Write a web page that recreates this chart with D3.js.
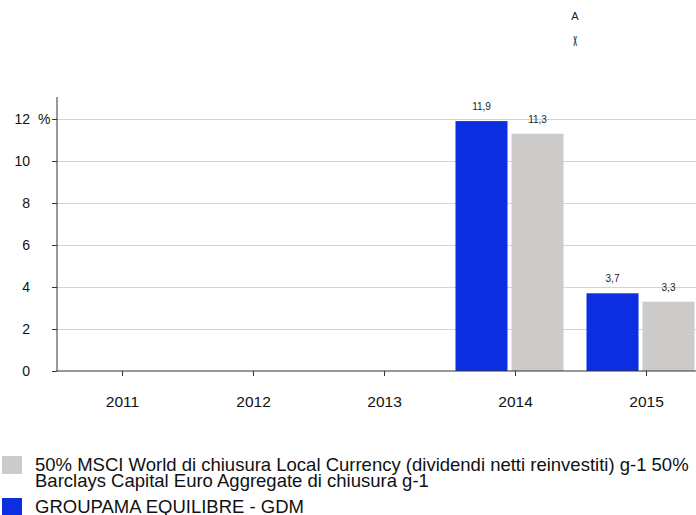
<!DOCTYPE html>
<html><head><meta charset="utf-8">
<script src="https://cdn.jsdelivr.net/npm/d3@7"></script>
<style>
html,body{margin:0;padding:0;background:#fff;}
svg{display:block;font-family:"Liberation Sans",Arial,sans-serif;}
svg text{font-family:"Liberation Sans",Arial,sans-serif;}
</style></head>
<body>
<svg id="chart" width="696" height="515"></svg>
<script>
const years = ["2011","2012","2013","2014","2015"];
const seriesNames = ["GROUPAMA EQUILIBRE - GDM","50% MSCI World di chiusura Local Currency (dividendi netti reinvestiti) g-1  50% Barclays Capital Euro Aggregate di chiusura g-1"];
const fundValues = [null, null, null, 11.9, 3.7];
const benchValues = [null, null, null, 11.3, 3.3];
const yTicks = [0, 2, 4, 6, 8, 10, 12];
const seriesColors = ["#0b2ee0", "#cdcaca"];
const legendLines = [
  ["50% MSCI World di chiusura Local Currency (dividendi netti reinvestiti) g-1  50%", "Barclays Capital Euro Aggregate di chiusura g-1"],
  ["GROUPAMA EQUILIBRE - GDM"]
];

const svg = d3.select("#chart");
const x0 = d3.scaleBand().domain(years).range([57, 712]).paddingInner(0).paddingOuter(0);
const x1 = d3.scaleBand().domain([0,1]).range([5.5, 113.5]).paddingInner(4/56);
const y = d3.scaleLinear().domain([0, 12]).range([371, 119]);

// gridlines
svg.append("g").selectAll("line").data(yTicks.filter(d=>d>0)).join("line")
  .attr("x1", 57).attr("x2", 696).attr("y1", d=>y(d)).attr("y2", d=>y(d))
  .attr("stroke", "#d4d4d4").attr("stroke-width", 1).attr("shape-rendering","crispEdges");

// bars
const data = years.map((yr,i)=>({yr, vals:[fundValues[i], benchValues[i]]}));
const g = svg.append("g");
data.forEach(d=>{
  d.vals.forEach((v,s)=>{
    if (v == null) return;
    const bx = x0(d.yr) + x1(s);
    g.append("rect").attr("x", bx).attr("y", y(v)).attr("width", x1.bandwidth())
      .attr("height", y(0)-y(v)).attr("fill", seriesColors[s]);
    g.append("text").attr("x", bx + x1.bandwidth()/2).attr("y", y(v)-11)
      .attr("text-anchor","middle").attr("font-size", 10).attr("fill","#222")
      .text(String(v).replace(".", ","));
  });
});

// y axis
const yAxis = d3.axisLeft(y).tickValues(yTicks).tickSize(5).tickPadding(22).tickFormat(d=>d);
const ya = svg.append("g").attr("transform","translate(57,0)").call(yAxis)
  .attr("font-family", null);
ya.select(".domain").attr("d","M0,97V371").attr("stroke","#333");
ya.selectAll(".tick line").attr("stroke","#333");
ya.selectAll(".tick text").attr("font-size", 14).attr("fill","#111");
svg.append("text").attr("x", 38).attr("y", y(12)+5).attr("font-size", 14).attr("fill","#111").text("%");

// x axis
const xAxis = d3.axisBottom(x0).tickSize(5).tickPadding(20);
const xa = svg.append("g").attr("transform","translate(0,371)").call(xAxis)
  .attr("font-family", null);
xa.select(".domain").attr("d","M57,0H696").attr("stroke","#333");
xa.selectAll(".tick line").attr("stroke","#333");
xa.selectAll(".tick text").attr("font-size", 15.5).attr("fill","#111");

// top marks
svg.append("text").attr("x", 575).attr("y", 20).attr("text-anchor","middle").attr("font-size", 11).attr("fill","#222").text("A");
svg.append("text").attr("transform","translate(575,46) scale(0.8,2)").attr("text-anchor","middle")
  .attr("font-size", 7).attr("font-weight","bold").attr("fill","#333").text("X");

// legend
const lg = svg.append("g");
const legendColors = [seriesColors[1], seriesColors[0]];
const legendY = [456, 498];
legendLines.forEach((lines,i)=>{
  lg.append("rect").attr("x", 2).attr("y", legendY[i]).attr("width", 20).attr("height", 18).attr("fill", legendColors[i]);
  const t = lg.append("text").attr("x", 35).attr("y", legendY[i]+15).attr("font-size", 18.5).attr("fill","#111");
  lines.forEach((ln,j)=>{
    t.append("tspan").attr("x", 35).attr("dy", j===0?0:16).text(ln);
  });
});
</script>
</body></html>
